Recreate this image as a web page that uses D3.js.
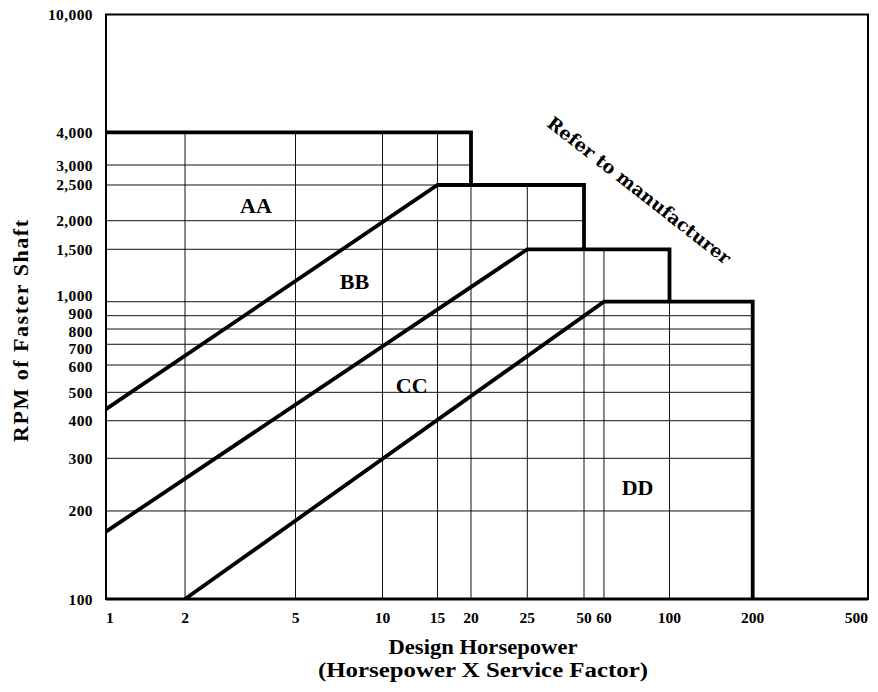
<!DOCTYPE html>
<html><head><meta charset="utf-8">
<script src="https://cdn.jsdelivr.net/npm/d3@7"></script>
<style>body{margin:0;background:#fff} svg{display:block}</style>
</head><body><svg id="chart" width="878" height="692"></svg>
<script>
// ---------- data ----------
const xTicks = [1, 2, 5, 10, 15, 20, 25, 50, 60, 100, 200, 500];
const xTickLabels = ["1", "2", "5", "10", "15", "20", "25", "50", "60", "100", "200", "500"];
const yTicks = [100, 200, 300, 400, 500, 600, 700, 800, 900, 1000, 1500, 2000, 2500, 3000, 4000, 10000];
const yTickLabels = ["100", "200", "300", "400", "500", "600", "700", "800", "900", "1,000", "1,500", "2,000", "2,500", "3,000", "4,000", "10,000"];

// belt sections: lower diagonal boundary start, top step and drop
const sections = ["AA", "BB", "CC", "DD"];
const diagStartHp = [null, 1, 1, 2];
const diagStartRpm = [null, 438, 170, 100];
const topStartHp = [1, 15, 25, 60];
const topRpm = [4000, 2500, 1500, 1000];
const topEndHp = [20, 50, 100, 200];
const dropToRpm = [2500, 1500, 1000, 100];
const labelHp = [3.6, 8, 12.4, 78];
const labelRpm = [2200, 1165, 525, 240];

const noteText = "Refer to manufacturer";
const noteHp = 79, noteRpm = 2420;

const xTitle1 = "Design Horsepower";
const xTitle2 = "(Horsepower X Service Factor)";
const yTitle = "RPM of Faster Shaft";

// ---------- layout (printed, non-uniform log axes: fraction of plot size per tick) ----------
const xCalib = [0, 0.1037, 0.2487, 0.3629, 0.435, 0.479, 0.5529, 0.6273, 0.6535, 0.7395, 0.8487, 1];
const yCalib = [0, 0.1506, 0.2407, 0.3050, 0.3536, 0.4003, 0.4358, 0.4619, 0.4847, 0.5086, 0.5983, 0.6472, 0.7083, 0.7425, 0.7985, 1];
const L = 106, R = 868, T = 14.5, B = 599;
const serif = "'Liberation Serif','Times New Roman',serif";

const svg = d3.select("#chart");

const xs = d3.scaleLinear().domain(xTicks.map(Math.log10)).range(xCalib.map(f => L + f * (R - L)));
const ys = d3.scaleLinear().domain(yTicks.map(Math.log10)).range(yCalib.map(f => B - f * (B - T)));
const X = v => xs(Math.log10(v));
const Y = v => ys(Math.log10(v));

// envelope polygon (region under step boundary)
const env = [[1, 100], [1, 4000]];
sections.forEach((s, i) => {
  env.push([topEndHp[i], topRpm[i]]);
  env.push([topEndHp[i], dropToRpm[i]]);
});
svg.append("clipPath").attr("id", "envClip")
  .append("path")
  .attr("d", d3.line().x(d => X(d[0])).y(d => Y(d[1]))(env) + "Z");

// grid
const grid = svg.append("g").attr("clip-path", "url(#envClip)")
  .attr("stroke", "#111").attr("stroke-width", 1);
grid.selectAll("line.v").data(xTicks.slice(1, -1)).join("line").attr("class", "v")
  .attr("x1", d => X(d)).attr("x2", d => X(d))
  .attr("y1", Y(yTicks[0])).attr("y2", Y(yTicks[yTicks.length - 1]));
grid.selectAll("line.h").data(yTicks.slice(1, -1)).join("line").attr("class", "h")
  .attr("y1", d => Y(d)).attr("y2", d => Y(d))
  .attr("x1", X(xTicks[0])).attr("x2", X(xTicks[xTicks.length - 1]));

// frame
svg.append("rect")
  .attr("x", X(xTicks[0])).attr("y", Y(yTicks[yTicks.length - 1]))
  .attr("width", X(xTicks[xTicks.length - 1]) - X(xTicks[0]))
  .attr("height", Y(yTicks[0]) - Y(yTicks[yTicks.length - 1]))
  .attr("fill", "none").attr("stroke", "#000").attr("stroke-width", 2);
svg.append("line")
  .attr("x1", X(xTicks[0])).attr("x2", X(xTicks[xTicks.length - 1]))
  .attr("y1", Y(yTicks[0])).attr("y2", Y(yTicks[0]))
  .attr("stroke", "#000").attr("stroke-width", 3);

// thick boundaries
const line = d3.line().x(d => X(d[0])).y(d => Y(d[1]));
sections.forEach((s, i) => {
  const pts = [];
  if (diagStartHp[i] !== null) pts.push([diagStartHp[i], diagStartRpm[i]]);
  pts.push([topStartHp[i], topRpm[i]]);
  pts.push([topEndHp[i], topRpm[i]]);
  pts.push([topEndHp[i], dropToRpm[i]]);
  svg.append("path").attr("d", line(pts))
    .attr("fill", "none").attr("stroke", "#000").attr("stroke-width", 3.8)
    .attr("stroke-linejoin", "miter");
});

// section labels
svg.selectAll("text.sec").data(sections).join("text").attr("class", "sec")
  .attr("x", (d, i) => X(labelHp[i])).attr("y", (d, i) => Y(labelRpm[i]))
  .attr("text-anchor", "middle").attr("dominant-baseline", "central")
  .attr("font-family", serif).attr("font-weight", "bold").attr("font-size", 22)
  .text(d => d);

// note
svg.append("text")
  .attr("transform", `translate(${X(noteHp)},${Y(noteRpm)}) rotate(38)`)
  .attr("text-anchor", "middle").attr("dominant-baseline", "central")
  .attr("font-family", "'DejaVu Serif',serif").attr("font-weight", "bold").attr("font-size", 18)
  .text(noteText);

// x tick labels
svg.selectAll("text.xt").data(xTicks).join("text").attr("class", "xt")
  .attr("x", d => X(d)).attr("y", 623)
  .attr("text-anchor", (d, i) => i === 0 ? "start" : (i === xTicks.length - 1 ? "end" : "middle"))
  .attr("font-family", serif).attr("font-weight", "bold").attr("font-size", 15.5)
  .text((d, i) => xTickLabels[i]);

// y tick labels, spread apart where crowded
const yFont = 15.5;
const gap = 17.6;
const ly = yTicks.map(d => Y(d));
for (let it = 0; it < 300; it++) {
  let moved = false;
  for (let i = 0; i < ly.length - 1; i++) {
    const d = ly[i] - ly[i + 1]; // i has larger y (lower value)
    if (d < gap - 0.01) {
      const p = (gap - d) / 2;
      ly[i] += p; ly[i + 1] -= p; moved = true;
    }
  }
  if (!moved) break;
}
svg.selectAll("text.yt").data(yTicks).join("text").attr("class", "yt")
  .attr("x", 93).attr("y", (d, i) => ly[i])
  .attr("text-anchor", "end").attr("dominant-baseline", "central")
  .attr("font-family", serif).attr("font-weight", "bold").attr("font-size", yFont)
  .attr("letter-spacing", 0.4)
  .text((d, i) => yTickLabels[i]);

// titles
svg.append("text").attr("x", 483).attr("y", 654).attr("text-anchor", "middle")
  .attr("font-family", serif).attr("font-weight", "bold").attr("font-size", 20)
  .attr("textLength", 189).attr("lengthAdjust", "spacingAndGlyphs").text(xTitle1);
svg.append("text").attr("x", 483).attr("y", 677).attr("text-anchor", "middle")
  .attr("font-family", serif).attr("font-weight", "bold").attr("font-size", 20)
  .attr("textLength", 330).attr("lengthAdjust", "spacingAndGlyphs").text(xTitle2);
svg.append("text").attr("transform", "translate(28,331) rotate(-90)").attr("text-anchor", "middle")
  .attr("font-family", serif).attr("font-weight", "bold").attr("font-size", 22)
  .attr("textLength", 222).attr("lengthAdjust", "spacing").text(yTitle);
</script></body></html>
